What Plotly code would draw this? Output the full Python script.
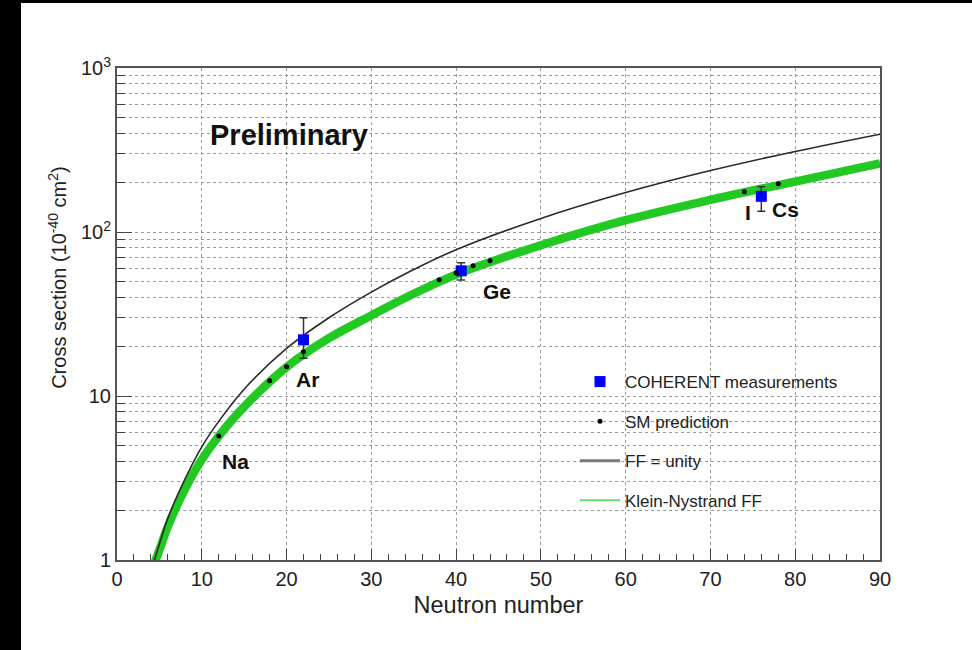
import plotly.graph_objects as go

# ---------------- data ----------------
curve_n = [4.0, 5, 6, 8, 10, 12, 15, 20, 25, 30, 35, 40, 50, 60, 70, 80, 90]
ff_unity = [0.85, 1.25, 1.8, 3.1, 4.9, 7.0, 11.0, 19.5, 30.0, 43.0, 59.0, 78.0, 121.0, 174.0, 237.0, 310.0, 395.0]
kn_n = [4.4, 5, 6, 8, 10, 12, 15, 20, 25, 30, 35, 40, 50, 60, 70, 80, 90]
klein_nystrand = [0.95, 1.15, 1.6, 2.7, 4.1, 5.7, 8.6, 15.0, 22.5, 31.0, 42.0, 55.0, 83.0, 118.0, 157.0, 203.0, 262.0]

sm_n = [12, 18, 20, 22, 38, 40, 42, 44, 74, 78]
sm_xs = [5.7, 12.4, 15.1, 18.6, 51.1, 56.4, 62.2, 66.7, 176.0, 197.0]

meas_n = [22.0, 40.6, 76.0]
meas_xs = [22.0, 58.0, 165.0]
meas_err_hi = [8.0, 7.0, 24.0]
meas_err_lo = [5.0, 7.0, 31.0]

x_ticks = [0, 10, 20, 30, 40, 50, 60, 70, 80, 90]
y_ticks = [1, 10, 100, 1000]
y_tick_text = ["1", "10", "10<sup>2</sup>", "10<sup>3</sup>"]

labels = ["Na", "Ar", "Ge", "I", "Cs"]
label_n = [14.0, 22.5, 44.8, 74.4, 78.9]
label_logy = [0.60, 1.10, 1.635, 2.117, 2.135]

FONT = "Liberation Sans, Arial, Helvetica, sans-serif"

fig = go.Figure()

# Klein-Nystrand band (thick green)
fig.add_trace(go.Scatter(x=kn_n, y=klein_nystrand, mode="lines", line=dict(color="#22c922", width=8.5, shape="spline"),
                         showlegend=False, hoverinfo="skip"))
# FF = unity
fig.add_trace(go.Scatter(x=curve_n, y=ff_unity, mode="lines", line=dict(color="#2a2a2a", width=1.6, shape="spline"),
                         showlegend=False, hoverinfo="skip"))

# Measurements
fig.add_trace(go.Scatter(x=meas_n, y=meas_xs, mode="markers", name="COHERENT measurements",
                         marker=dict(symbol="square", color="#0000ff", size=11),
                         error_y=dict(type="data", symmetric=False, array=meas_err_hi, arrayminus=meas_err_lo,
                                      color="#333333", thickness=1.5, width=4),
                         legendgroup="a"))
# SM prediction
fig.add_trace(go.Scatter(x=sm_n, y=sm_xs, mode="markers", name="SM prediction",
                         marker=dict(color="black", size=5), legendgroup="b"))
# legend entries for curves
fig.add_trace(go.Scatter(x=[None], y=[None], mode="lines", name="FF = unity",
                         line=dict(color="#7a7a7a", width=3), legendgroup="c"))
fig.add_trace(go.Scatter(x=[None], y=[None], mode="lines", name="Klein-Nystrand FF",
                         line=dict(color="#66dd66", width=2), legendgroup="d"))

annotations = []
for t, xn, yl in zip(labels, label_n, label_logy):
    annotations.append(dict(x=xn, y=yl, xref="x", yref="y", text=f"<b>{t}</b>", showarrow=False,
                            font=dict(family=FONT, size=21, color="#111")))
annotations.append(dict(x=20.3, y=2.593, xref="x", yref="y", text="<b>Preliminary</b>", showarrow=False,
                        font=dict(family=FONT, size=29, color="#111")))
annotations.append(dict(x=-0.079, y=0.575, xref="paper", yref="paper", textangle=-90,
                        text="Cross section (10<sup>-40</sup> cm<sup>2</sup>)", showarrow=False,
                        xanchor="center", yanchor="middle",
                        font=dict(family=FONT, size=20, color="#222")))

W, H = 972, 650
L, R, T, B = 117, 92, 68, 90
pw, ph = W - L - R, H - T - B

def px_to_paper_x(px):
    return (px - L) / pw

def px_to_paper_y(py):
    return (H - B - py) / ph

shapes = [
    dict(type="rect", xref="paper", yref="paper", x0=px_to_paper_x(0), x1=px_to_paper_x(21),
         y0=px_to_paper_y(H), y1=px_to_paper_y(0), fillcolor="black", line=dict(width=0), layer="above"),
    dict(type="rect", xref="paper", yref="paper", x0=px_to_paper_x(0), x1=px_to_paper_x(W),
         y0=px_to_paper_y(3), y1=px_to_paper_y(0), fillcolor="black", line=dict(width=0), layer="above"),
]

minor_y = [m * d for d in (1, 10, 100) for m in range(2, 10)]

fig.update_layout(
    width=W, height=H,
    margin=dict(l=L, r=R, t=T, b=B),
    paper_bgcolor="white", plot_bgcolor="white",
    font=dict(family=FONT, color="#222"),
    annotations=annotations, shapes=shapes,
    legend=dict(x=px_to_paper_x(575), y=px_to_paper_y(364), xanchor="left", yanchor="top",
                bgcolor="rgba(255,255,255,0)", font=dict(family=FONT, size=17, color="#222"),
                tracegroupgap=14.5, traceorder="grouped", itemwidth=40),
    showlegend=True,
)

fig.update_xaxes(range=[0, 90], tickvals=x_ticks, ticks="inside", ticklen=11, tickwidth=1, tickcolor="#444",
                 showgrid=True, gridcolor="#9a9a9a", griddash="dot", gridwidth=1,
                 showline=True, linecolor="#555", linewidth=2, mirror=True, zeroline=False,
                 tickfont=dict(family=FONT, size=20, color="#222"),
                 title=dict(text="Neutron number", font=dict(family=FONT, size=23.5, color="#222"), standoff=8),
                 minor=dict(dtick=2, ticks="inside", ticklen=6, tickcolor="#444", showgrid=False))
fig.update_yaxes(type="log", range=[0, 3], tickvals=y_ticks, ticktext=y_tick_text, ticks="inside", ticklen=15,
                 tickwidth=1, tickcolor="#444",
                 showgrid=True, gridcolor="#9a9a9a", griddash="dot", gridwidth=1,
                 showline=True, linecolor="#555", linewidth=2, mirror=True, zeroline=False,
                 tickfont=dict(family=FONT, size=20, color="#222"),
                 minor=dict(tickmode="array", tickvals=minor_y, ticks="inside", ticklen=8, tickcolor="#444",
                            showgrid=True, gridcolor="#9a9a9a", griddash="dot", gridwidth=1))

fig.write_html("out.html", config={"displayModeBar": False},
               post_script="document.body.style.margin='0';")
